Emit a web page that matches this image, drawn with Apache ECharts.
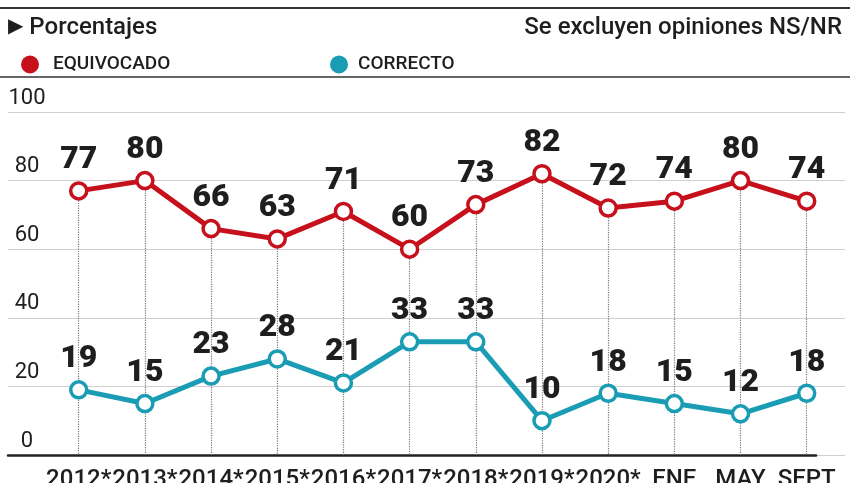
<!DOCTYPE html>
<html>
<head>
<meta charset="utf-8">
<script src="https://cdn.jsdelivr.net/npm/echarts@6/dist/echarts.min.js"></script>
<style>
html,body{margin:0;padding:0;background:#fff;}
#chart{width:850px;height:483px;}
</style>
</head>
<body>
<div id="chart"></div>
<script>
const categories = ['2012*','2013*','2014*','2015*','2016*','2017*','2018*','2019*','2020*','ENE','MAY','SEPT'];
const equivocado = [77,80,66,63,71,60,73,82,72,74,80,74];
const correcto = [19,15,23,28,21,33,33,10,18,15,12,18];
const yTicks = [0,20,40,60,80,100];

const RED = '#c6111c';
const TEAL = '#1a9db4';
const TXT = '#1e1e1e';
const FONT = 'Roboto, "Noto Sans", sans-serif';

const chart = echarts.init(document.getElementById('chart'), null, {renderer:'canvas'});

const gTop = 112, gBottom = 28;
const labelStyle = {
  show: true, position: 'top', distance: 5,
  fontFamily: FONT, fontSize: 32, fontWeight: 900, color: TXT
};

const option = {
  backgroundColor: '#fff',
  animation: false,
  title: [
    {
      text: '{tri|▶} Porcentajes', left: 3, top: 11,
      textStyle: {
        fontFamily: FONT, fontSize: 24, fontWeight: 500, color: TXT,
        rich: { tri: { fontFamily: '"DejaVu Sans"', fontSize: 20, color: TXT, padding:[0,0,2,0] } }
      }
    },
    {
      text: 'Se excluyen opiniones NS/NR', right: 3, top: 11,
      textStyle: { fontFamily: FONT, fontSize: 24, fontWeight: 500, color: TXT }
    }
  ],
  legend: [
    {
      data: ['EQUIVOCADO'], left: 16, top: 50, icon: 'circle',
      itemWidth: 18, itemHeight: 18,
      itemStyle: { color: RED, borderWidth: 0 },
      textStyle: { fontFamily: FONT, fontSize: 19, fontWeight: 500, color: TXT, padding:[0,0,0,9] }
    },
    {
      data: ['CORRECTO'], left: 325, top: 50, icon: 'circle',
      itemWidth: 18, itemHeight: 18,
      itemStyle: { color: TEAL, borderWidth: 0 },
      textStyle: { fontFamily: FONT, fontSize: 19, fontWeight: 500, color: TXT, padding:[0,0,0,5] }
    }
  ],
  graphic: [
    { type: 'line', shape: { x1: 0, y1: 8, x2: 850, y2: 8 }, style: { stroke: '#333', lineWidth: 2 } },
    { type: 'line', shape: { x1: 0, y1: 77, x2: 850, y2: 77 }, style: { stroke: '#333', lineWidth: 1.5 } }
  ],
  grid: [
    { left: 8, right: 5, top: gTop, bottom: gBottom, outerBoundsMode: 'none', containLabel: false },
    { left: 78.7, right: 43.3, top: gTop, bottom: gBottom, outerBoundsMode: 'none', containLabel: false },
    { left: 8, right: 34, top: gTop, bottom: gBottom, outerBoundsMode: 'none', containLabel: false }
  ],
  xAxis: [
    { gridIndex: 0, type: 'value', min: 0, max: 1, show: false },
    {
      gridIndex: 1, type: 'category', data: categories, boundaryGap: false,
      axisLine: { show: false }, axisTick: { show: false }, splitLine: { show: false },
      axisLabel: { interval: 0, margin: 13, fontFamily: FONT, fontSize: 24, fontWeight: 500, color: TXT }
    },
    {
      gridIndex: 2, type: 'value', min: 0, max: 1,
      axisLine: { show: true, lineStyle: { color: '#222', width: 2.5 } },
      axisTick: { show: false }, axisLabel: { show: false }, splitLine: { show: false }
    }
  ],
  yAxis: [
    {
      gridIndex: 0, type: 'value', min: yTicks[0], max: yTicks[yTicks.length-1], interval: 20,
      axisLine: { show: false }, axisTick: { show: false },
      splitLine: { show: true, lineStyle: { color: '#cfcfcf', width: 1 } },
      axisLabel: {
        inside: true, margin: 19, align: 'center', verticalAlign: 'bottom',
        padding: [0,0,3,0],
        fontFamily: FONT, fontSize: 22, color: TXT
      }
    },
    { gridIndex: 1, type: 'value', min: 0, max: 100, show: false },
    { gridIndex: 2, type: 'value', min: 0, max: 100, show: false }
  ],
  series: [
    {
      name: 'guides', type: 'line', xAxisIndex: 1, yAxisIndex: 1,
      data: equivocado, symbol: 'none', lineStyle: { opacity: 0 }, z: 1, silent: true,
      markLine: {
        silent: true, symbol: 'none', label: { show: false },
        lineStyle: { type: 'dotted', color: '#7a7a7a', width: 1.2 },
        data: equivocado.map((v, i) => [ { coord: [i, v] }, { coord: [i, 0] } ])
      }
    },
    {
      name: 'EQUIVOCADO', type: 'line', xAxisIndex: 1, yAxisIndex: 1, data: equivocado, z: 5,
      color: RED,
      lineStyle: { color: RED, width: 5 },
      symbol: 'circle', symbolSize: 16,
      itemStyle: { color: '#fff', borderColor: RED, borderWidth: 3.5 },
      label: labelStyle
    },
    {
      name: 'CORRECTO', type: 'line', xAxisIndex: 1, yAxisIndex: 1, data: correcto, z: 5,
      color: TEAL,
      lineStyle: { color: TEAL, width: 5 },
      symbol: 'circle', symbolSize: 16,
      itemStyle: { color: '#fff', borderColor: TEAL, borderWidth: 3.5 },
      label: labelStyle
    }
  ]
};
chart.setOption(option);
</script>
</body>
</html>
